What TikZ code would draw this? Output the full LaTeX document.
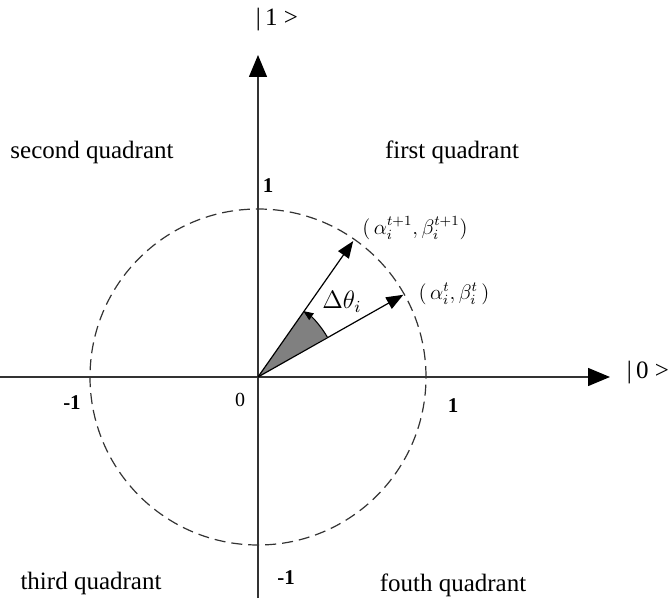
\documentclass[tikz,border=0pt]{standalone}
\usepackage{fontspec}
\setmainfont{Liberation Serif}
\usetikzlibrary{arrows.meta,calc}
\begin{document}
\begin{tikzpicture}[x=1pt,y=1pt,
  axis/.style={line width=1.4pt,draw=black!80,-{Triangle[length=22pt,width=18pt,color=black,fill=black]}},
  vec/.style={line width=1.2pt,-{Triangle[length=17pt,width=13pt]}},
  quad/.style={font=\fontsize{25}{28}\selectfont},
  ket/.style={font=\fontsize{25}{28}\selectfont},
  tick/.style={font=\fontsize{21}{24}\selectfont\bfseries},
  lbl/.style={font=\fontsize{20}{24}\selectfont}]
\path[use as bounding box] (0,0) rectangle (669,598);
\coordinate (O) at (258,221);
\coordinate (xs) at (0,221);
\coordinate (xe) at (610,221);
\coordinate (ys) at (258,0);
\coordinate (ye) at (258,543);
% axes
\draw[axis] (xs) -- (xe);
\draw[axis] (ys) -- (ye);
% circle
\draw[line width=1.2pt,dash pattern=on 11pt off 6pt,draw=black!80] (O) circle[radius=168];
% sector
\fill[black!50] (O) -- ($(O)+(30:80)$) arc[start angle=30,end angle=55,radius=80] -- cycle;
\draw[line width=1.1pt,-{Triangle[length=10pt,width=8pt]}] ($(O)+(30:80)$) arc[start angle=30,end angle=55.5,radius=80];
% vectors
\coordinate (A) at ($(O)+(55:166)$);
\coordinate (B) at ($(O)+(29.5:167)$);
\draw[vec] (O) -- (A);
\draw[vec] (O) -- (B);
% labels
\node[ket] (k1) at (277,578) {|\,1 >};
\node[ket] (k0) at (648,225) {|\,0 >};
\node[quad] (q2) at (92,446) {second quadrant};
\node[quad] (q1) at (452,446) {first quadrant};
\node[quad] (q3) at (91,15) {third quadrant};
\node[quad] (q4) at (453,13) {fouth quadrant};
\node[tick] (t1y) at (268,412) {1};
\node[tick] (t1x) at (453,192) {1};
\node[tick] (tm1x) at (72,195) {-1};
\node[tick] (tm1y) at (286,20) {-1};
\node[lbl] (t0) at (240,198) {0};
\node (la) at (415,370) {\scalebox{1.75}{\large$\bigl(\,\alpha_i^{t+1},\beta_i^{t+1}\bigr)$}};
\node (lb) at (454,304) {\scalebox{1.75}{\large$\bigl(\,\alpha_i^{t},\beta_i^{t}\,\bigr)$}};
\node (dt) at (342,296) {\scalebox{2.1}{\large$\Delta\theta_i$}};
\end{tikzpicture}
\end{document}
